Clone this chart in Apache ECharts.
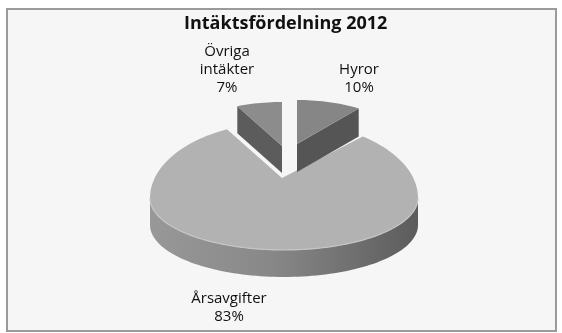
<!DOCTYPE html>
<html>
<head>
<meta charset="utf-8">
<script src="https://cdn.jsdelivr.net/npm/echarts@6/dist/echarts.min.js"></script>
<style>
  html, body { margin: 0; padding: 0; background: #ffffff; }
  #chart { width: 562px; height: 333px; }
</style>
</head>
<body>
<div id="chart"></div>
<script>
// ---- data ----
const chartTitle = 'Intäktsfördelning 2012';
const categories = ['Hyror', 'Årsavgifter', 'Övriga intäkter'];
const values = [10, 83, 7];

// ---- layout / style (not data) ----
const sliceGeom = [
  { cx: 297, cy: 144, rx: 105, ryB: 44, ryF: 44, ax: 297, ay: 144, depth: 28,
    top: '#868686', wall: '#555555', z: 10 },
  { cx: 284, cy: 198, rx: 134, ryB: 76, ryF: 52, ax: 282, ay: 178, depth: 27,
    top: '#b2b2b2', wall: null, z: 0 },
  { cx: 282, cy: 146, rx: 105, ryB: 44, ryF: 44, ax: 282, ay: 146, depth: 27,
    top: '#8c8c8c', wall: '#5c5c5c', z: 10 }
];
const labelPos = [[359, 79], [229, 308], [227, 70]];

const total = values.reduce((a, b) => a + b, 0);
const D2R = Math.PI / 180;

function rim(g, deg) {
  const t = deg * D2R;
  const c = Math.cos(t);
  return [g.cx + g.rx * Math.sin(t), g.cy - (c > 0 ? g.ryB : g.ryF) * c];
}
function arcPts(g, a0, a1, dy) {
  const pts = [];
  const n = Math.max(2, Math.ceil(Math.abs(a1 - a0) / 2));
  for (let i = 0; i <= n; i++) {
    const p = rim(g, a0 + (a1 - a0) * i / n);
    pts.push([p[0], p[1] + (dy || 0)]);
  }
  return pts;
}

function renderItem(params, api) {
  const i = params.dataIndex;
  const v = api.value(0);
  let before = 0;
  for (let k = 0; k < i; k++) before += values[k];
  const a0 = before / total * 360;
  const a1 = (before + v) / total * 360;
  const g = sliceGeom[i];
  const children = [];

  // outer curved wall (front-facing part only)
  const w0 = Math.max(a0, 90), w1 = Math.min(a1, 270);
  if (w1 > w0) {
    const topArc = arcPts(g, w0, w1, 0);
    const botArc = arcPts(g, w1, w0, g.depth);
    children.push({
      type: 'polygon', z2: g.z,
      shape: { points: topArc.concat(botArc) },
      style: {
        fill: new echarts.graphic.LinearGradient(0, 0, 1, 0, [
          { offset: 0, color: '#989898' },
          { offset: 0.45, color: '#888888' },
          { offset: 1, color: '#5c5c5c' }
        ]),
        stroke: null
      }
    });
    children.push({
      type: 'polyline', z2: g.z + 2,
      shape: { points: topArc },
      style: { stroke: '#c6c6c6', lineWidth: 1.2, fill: null }
    });
  }

  // radial walls
  const edges = [[a0, a0 - 90], [a1, a1 + 90]];
  edges.forEach(function (e) {
    if (Math.cos(e[1] * D2R) < -0.01 && g.wall) {
      const p = rim(g, e[0]);
      children.push({
        type: 'polygon', z2: g.z,
        shape: { points: [[g.ax, g.ay], p, [p[0], p[1] + g.depth], [g.ax, g.ay + g.depth]] },
        style: { fill: g.wall, stroke: null }
      });
    }
  });

  // top face
  children.push({
    type: 'polygon', z2: g.z + 1,
    shape: { points: [[g.ax, g.ay]].concat(arcPts(g, a0, a1, 0)) },
    style: { fill: g.top, stroke: null }
  });

  // label
  const pct = Math.round(v / total * 100) + '%';
  const name = categories[i].replace(' ', '\n');
  children.push({
    type: 'text', z2: 50,
    x: labelPos[i][0], y: labelPos[i][1],
    style: {
      text: name + '\n' + pct,
      fill: '#111111',
      fontFamily: 'Open Sans',
      fontSize: 15,
      lineHeight: 18,
      align: 'center',
      verticalAlign: 'middle'
    }
  });

  return { type: 'group', children: children };
}

const chart = echarts.init(document.getElementById('chart'), null, { renderer: 'canvas' });
chart.setOption({
  animation: false,
  backgroundColor: '#ffffff',
  title: {
    text: chartTitle,
    left: 184,
    top: 15,
    padding: 0,
    textStyle: { fontFamily: 'Open Sans', fontWeight: 'bold', fontSize: 18, color: '#111111' }
  },
  graphic: [{
    type: 'rect', z: -10, silent: true,
    shape: { x: 7, y: 9, width: 549, height: 322 },
    style: { fill: '#f6f6f6', stroke: '#9a9a9a', lineWidth: 2 }
  }],
  series: [{
    type: 'custom',
    coordinateSystem: 'none',
    silent: true,
    renderItem: renderItem,
    data: values.map(function (v) { return [v]; })
  }]
});
</script>
</body>
</html>
